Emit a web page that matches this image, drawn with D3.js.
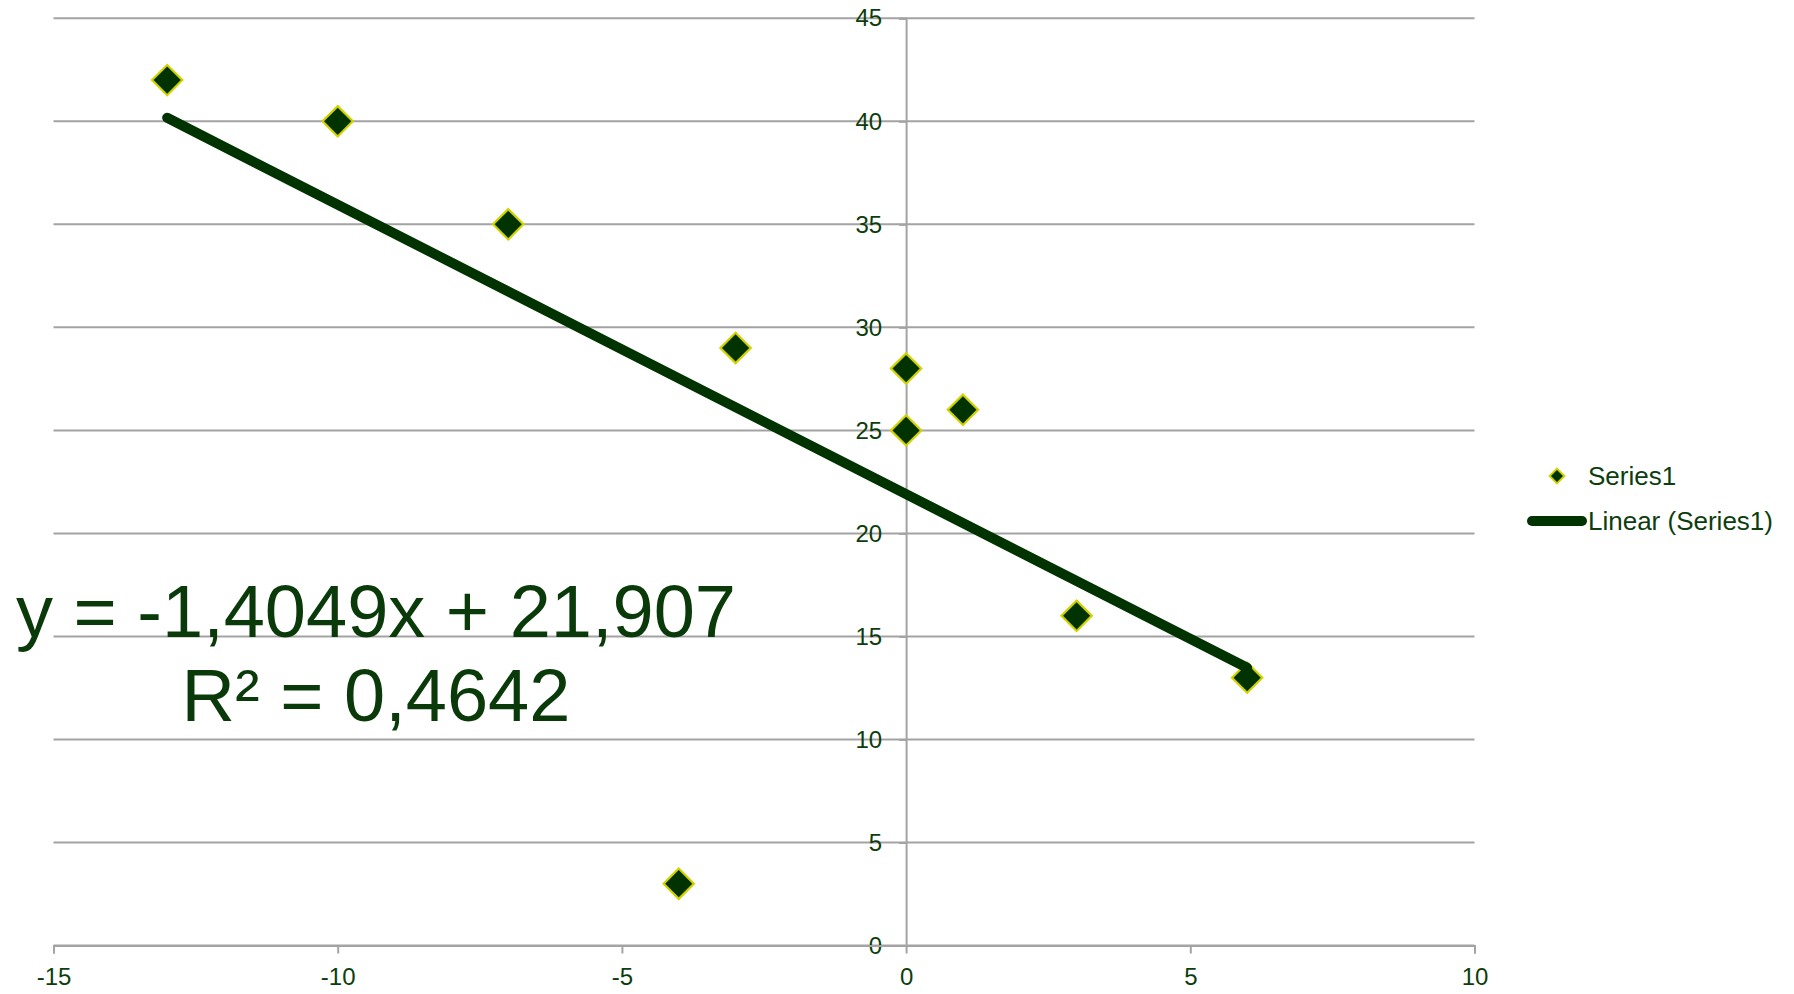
<!DOCTYPE html>
<html>
<head>
<meta charset="utf-8">
<script src="https://cdn.jsdelivr.net/npm/d3@7"></script>
<style>
  html, body { margin: 0; padding: 0; background: #fff; }
  svg { display: block; font-family: "Liberation Sans", Arial, sans-serif; }
</style>
</head>
<body>
<svg id="chart" width="1794" height="994"></svg>
<script>
const xValues = [-13, -10, -7, -3, 0, 0, 1, 3, 6, -4];
const yValues = [42, 40, 35, 29, 28, 25, 26, 16, 13, 3];
const xTicks = [-15, -10, -5, 0, 5, 10];
const yTicks = [0, 5, 10, 15, 20, 25, 30, 35, 40, 45];
const seriesName = "Series1";
const trendName = "Linear (Series1)";
const equationLines = ["y = -1,4049x + 21,907", "R² = 0,4642"];

const svg = d3.select("#chart");
const plotLeft = 53.5, plotRight = 1474.5, plotTop = 18.3, plotBottom = 945.5;
const x = d3.scaleLinear().domain([-15, 10]).range([plotLeft, plotRight]);
const y = d3.scaleLinear().domain([0, 45]).range([plotBottom, plotTop]);

const gridColor = "#a3a3a3";
const textColor = "#0d3d0d";
const markFill = "#003300";
const markStroke = "#d2d200";

// horizontal gridlines
svg.append("g").selectAll("line").data(yTicks).join("line")
  .attr("x1", plotLeft).attr("x2", plotRight)
  .attr("y1", d => y(d)).attr("y2", d => y(d))
  .attr("stroke", gridColor).attr("stroke-width", 2);

// y axis at x = 0
const yAxis = d3.axisLeft(y).tickValues(yTicks).tickSize(7).tickPadding(17).tickFormat(d => String(d));
const gy = svg.append("g").attr("transform", `translate(${x(0)},0)`).call(yAxis);
gy.select(".domain").attr("stroke", gridColor).attr("stroke-width", 2);
gy.selectAll(".tick line").attr("stroke", gridColor).attr("stroke-width", 2);
gy.selectAll(".tick text").attr("fill", textColor).attr("font-size", 24)
  .attr("font-family", "'Liberation Sans', Arial, sans-serif");

// x axis at y = 0
const xAxis = d3.axisBottom(x).tickValues(xTicks).tickSize(8).tickPadding(14).tickFormat(d => String(d));
const gx = svg.append("g").attr("transform", `translate(0,${y(0)})`).call(xAxis);
gx.select(".domain").attr("stroke", gridColor).attr("stroke-width", 2);
gx.selectAll(".tick line").attr("stroke", gridColor).attr("stroke-width", 2);
gx.selectAll(".tick text").attr("fill", textColor).attr("font-size", 24)
  .attr("font-family", "'Liberation Sans', Arial, sans-serif");

// markers
const points = xValues.map((v, i) => ({ x: v, y: yValues[i] }));
const diamond = d3.symbol().type(d3.symbolSquare).size(460);
svg.append("g").selectAll("path").data(points).join("path")
  .attr("d", diamond)
  .attr("transform", d => `translate(${x(d.x)},${y(d.y)}) rotate(45)`)
  .attr("fill", markFill).attr("stroke", markStroke).attr("stroke-width", 2.2);

// linear trendline (least squares on the data)
const mx = d3.mean(xValues), my = d3.mean(yValues);
const sxy = d3.sum(xValues, (v, i) => (v - mx) * (yValues[i] - my));
const sxx = d3.sum(xValues, v => (v - mx) * (v - mx));
const slope = sxy / sxx, intercept = my - slope * mx;
const [xmin, xmax] = d3.extent(xValues);
svg.append("line")
  .attr("x1", x(xmin)).attr("y1", y(intercept + slope * xmin))
  .attr("x2", x(xmax)).attr("y2", y(intercept + slope * xmax))
  .attr("stroke", markFill).attr("stroke-width", 10).attr("stroke-linecap", "round");

// equation
const eq = svg.append("text").attr("fill", "#0a3a0a").attr("font-size", 74)
  .attr("text-anchor", "middle");
eq.selectAll("tspan").data(equationLines).join("tspan")
  .attr("x", 376).attr("y", (d, i) => 637 + i * 84).text(d => d);

// legend
const lg = svg.append("g");
lg.append("path").attr("d", d3.symbol().type(d3.symbolSquare).size(110))
  .attr("transform", "translate(1557,476) rotate(45)")
  .attr("fill", markFill).attr("stroke", markStroke).attr("stroke-width", 2);
lg.append("text").attr("x", 1588).attr("y", 485).attr("fill", textColor)
  .attr("font-size", 26).text(seriesName);
lg.append("line").attr("x1", 1532).attr("x2", 1582).attr("y1", 521).attr("y2", 521)
  .attr("stroke", markFill).attr("stroke-width", 10).attr("stroke-linecap", "round");
lg.append("text").attr("x", 1588).attr("y", 530).attr("fill", textColor)
  .attr("font-size", 26).text(trendName);
</script>
</body>
</html>
